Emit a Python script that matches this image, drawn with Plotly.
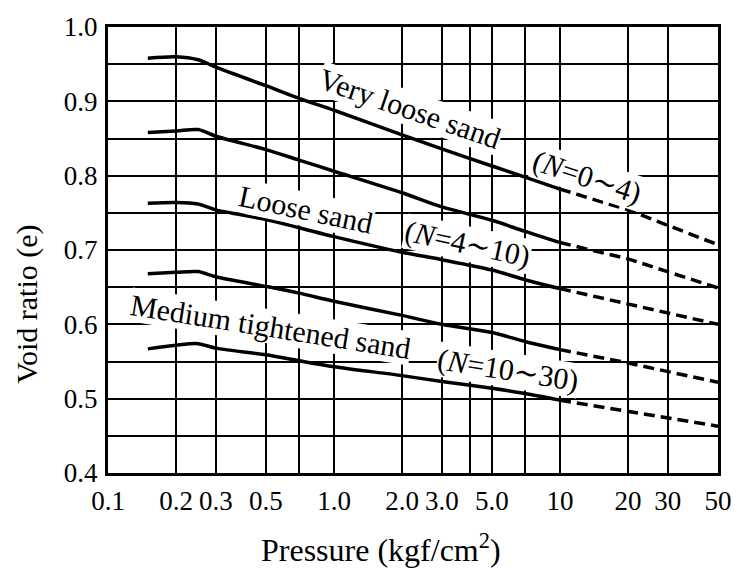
import plotly.graph_objects as go

# ---- data ----
pressure_solid = [0.15, 0.2, 0.25, 0.3, 0.5, 0.7, 1.0, 2.0, 3.0, 5.0, 7.0, 10.0]
pressure_dash = [10.0, 20.0, 50.0]

very_loose = [0.958, 0.960, 0.956, 0.946, 0.921, 0.904, 0.888, 0.855, 0.836, 0.813, 0.798, 0.782]
very_loose_dash = [0.782, 0.754, 0.707]

curve2 = [0.858, 0.860, 0.862, 0.853, 0.835, 0.821, 0.806, 0.777, 0.758, 0.740, 0.725, 0.710]
curve2_dash = [0.710, 0.688, 0.649]

loose = [0.763, 0.764, 0.762, 0.754, 0.741, 0.730, 0.718, 0.697, 0.687, 0.673, 0.660, 0.648]
loose_dash = [0.648, 0.627, 0.600]

curve4 = [0.668, 0.670, 0.671, 0.664, 0.651, 0.642, 0.631, 0.612, 0.600, 0.589, 0.577, 0.566]
curve4_dash = [0.566, 0.548, 0.522]

medium = [0.567, 0.572, 0.574, 0.568, 0.559, 0.551, 0.543, 0.531, 0.523, 0.514, 0.507, 0.498]
medium_dash = [0.498, 0.483, 0.463]

x_tickvals = [0.1, 0.2, 0.3, 0.5, 1.0, 2.0, 3.0, 5.0, 10, 20, 30, 50]
x_ticktext = ["0.1", "0.2", "0.3", "0.5", "1.0", "2.0", "3.0", "5.0", "10", "20", "30", "50"]
x_minor_grid = [0.7, 4.0, 7.0]
y_tickvals = [0.4, 0.5, 0.6, 0.7, 0.8, 0.9, 1.0]
y_ticktext = ["0.4", "0.5", "0.6", "0.7", "0.8", "0.9", "1.0"]
y_minor_grid = [0.45, 0.55, 0.65, 0.75, 0.85, 0.95]

labels = [
    ("Very loose sand", 0.495, 0.818, 19),
    ("(<i>N</i>=0∼4)", 0.785, 0.663, 18),
    ("Loose sand", 0.325, 0.591, 12),
    ("(<i>N</i>=4∼10)", 0.590, 0.514, 12),
    ("Medium tightened sand", 0.266, 0.328, 9),
    ("(<i>N</i>=10∼30)", 0.655, 0.230, 9),
]

SERIF = "Liberation Serif, Times New Roman, DejaVu Serif, serif"

fig = go.Figure()
for solid, dash in [(very_loose, very_loose_dash), (curve2, curve2_dash), (loose, loose_dash),
                    (curve4, curve4_dash), (medium, medium_dash)]:
    fig.add_trace(go.Scatter(x=pressure_solid, y=solid, mode="lines",
                             line=dict(color="black", width=3.5, shape="spline", smoothing=0.8),
                             showlegend=False, hoverinfo="skip"))
    fig.add_trace(go.Scatter(x=pressure_dash, y=dash, mode="lines",
                             line=dict(color="black", width=3.5, dash="11px,6px"),
                             showlegend=False, hoverinfo="skip"))

for text, xp, yp, ang in labels:
    fig.add_annotation(text=text, xref="paper", yref="paper", x=xp, y=yp,
                       xanchor="center", yanchor="middle",
                       showarrow=False, textangle=ang,
                       font=dict(family=SERIF, size=30, color="black"),
                       bgcolor="white", borderpad=0)

fig.add_annotation(text="Pressure (kgf/cm<sup>2</sup>)", xref="paper", yref="paper",
                   x=0.447, y=-0.168, showarrow=False, xanchor="center", yanchor="middle",
                   font=dict(family=SERIF, size=32, color="black"))
fig.add_annotation(text="Void ratio (e)", xref="paper", yref="paper",
                   x=-0.133, y=0.379, showarrow=False, textangle=-90,
                   xanchor="center", yanchor="middle",
                   font=dict(family=SERIF, size=30, color="black"))

fig.update_xaxes(type="log", range=[-1, 1.69897],
                 tickmode="array", tickvals=x_tickvals, ticktext=x_ticktext,
                 showgrid=True, gridcolor="black", gridwidth=2,
                 minor=dict(tickmode="array", tickvals=x_minor_grid, showgrid=True,
                            gridcolor="black", gridwidth=2, ticks=""),
                 showline=True, linecolor="black", linewidth=3, mirror=True,
                 ticks="", ticklabelstandoff=2,
                 tickfont=dict(family=SERIF, size=27, color="black"), zeroline=False)
fig.update_yaxes(range=[0.4, 1.0], tickmode="array", tickvals=y_tickvals, ticktext=y_ticktext,
                 showgrid=True, gridcolor="black", gridwidth=2,
                 minor=dict(tickmode="array", tickvals=y_minor_grid, showgrid=True,
                            gridcolor="black", gridwidth=2, ticks=""),
                 showline=True, linecolor="black", linewidth=3, mirror=True,
                 ticks="", ticklabelstandoff=2,
                 tickfont=dict(family=SERIF, size=27, color="black"), zeroline=False)

fig.update_layout(width=744, height=570, margin=dict(l=108, r=18, t=16, b=97),
                  paper_bgcolor="white", plot_bgcolor="white", showlegend=False)

fig.write_html("out.html")
